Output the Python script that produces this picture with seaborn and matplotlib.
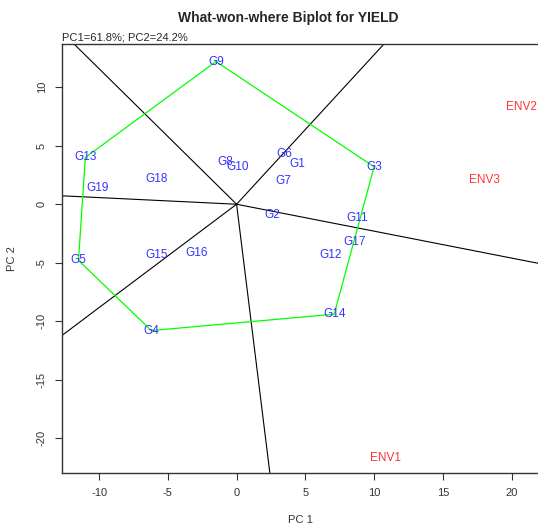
import numpy as np
import pandas as pd
import matplotlib
matplotlib.use("Agg")
import matplotlib.pyplot as plt
import seaborn as sns

# genotype scores (PC1, PC2)
genotypes = ["G1", "G2", "G3", "G4", "G5", "G6", "G7", "G8", "G9", "G10",
             "G11", "G12", "G13", "G14", "G15", "G16", "G17", "G18", "G19"]
gen_pc1 = [4.4, 2.6, 10.0, -6.2, -11.5, 3.5, 3.4, -0.8, -1.5, 0.1,
           8.8, 6.8, -11.0, 7.1, -5.8, -2.9, 8.6, -5.8, -10.1]
gen_pc2 = [3.4, -0.9, 3.2, -10.8, -4.8, 4.3, 2.0, 3.6, 12.2, 3.2,
           -1.2, -4.3, 4.0, -9.4, -4.3, -4.2, -3.2, 2.2, 1.4]

# environment scores
environments = ["ENV1", "ENV2", "ENV3"]
env_pc1 = [10.8, 20.7, 18.0]
env_pc2 = [-21.7, 8.3, 2.1]

# polygon (convex hull) vertices, in drawing order
hull_order = ["G9", "G3", "G14", "G4", "G5", "G13", "G9"]

gen = pd.DataFrame({"name": genotypes, "pc1": gen_pc1, "pc2": gen_pc2})
env = pd.DataFrame({"name": environments, "pc1": env_pc1, "pc2": env_pc2})
hull = gen.set_index("name").loc[hull_order].reset_index()

sns.set_theme(style="ticks")
plt.rcParams["font.family"] = ["Liberation Sans", "DejaVu Sans"]
plt.rcParams["axes.unicode_minus"] = False

fig = plt.figure(figsize=(5.38, 5.25), dpi=100)
ax = fig.add_axes([0.1152, 0.099, 0.8868, 0.8172])

# rays from the origin, perpendicular to each side of the polygon
pts = hull[["pc1", "pc2"]].to_numpy()
for a, b in zip(pts[:-1], pts[1:]):
    d = b - a
    t = -np.dot(a, d) / np.dot(d, d)
    foot = a + t * d
    direction = foot / np.linalg.norm(foot)
    end = direction * 100
    ax.plot([0, end[0]], [0, end[1]], color="black", lw=0.8, zorder=1)

sns.lineplot(data=hull, x="pc1", y="pc2", sort=False, estimator=None,
             color="#00ff00", lw=0.9, ax=ax, zorder=2)

for _, r in gen.iterrows():
    ax.text(r.pc1, r.pc2, r["name"], color="#3333ff", fontsize=8.5,
            ha="center", va="center", zorder=3)
for _, r in env.iterrows():
    ax.text(r.pc1, r.pc2, r["name"], color="#ff3333", fontsize=8.5,
            ha="center", va="center", zorder=3)

ax.set_xlim(-12.7, 22.0)
ax.set_ylim(-22.98, 13.7)
ax.set_xticks([-10, -5, 0, 5, 10, 15, 20])
ax.set_yticks([-20, -15, -10, -5, 0, 5, 10])
ax.tick_params(axis="both", labelsize=8, length=5, width=0.8, color="#333333",
               labelcolor="#333333", pad=6)
plt.setp(ax.get_yticklabels(), rotation=90, va="center")
for s in ax.spines.values():
    s.set_color("#333333")
    s.set_linewidth(1.0)

ax.set_xlabel("PC 1", fontsize=8, color="#333333", labelpad=12)
ax.set_ylabel("PC 2", fontsize=8, color="#333333", labelpad=14)

fig.text(0.535, 0.965, "What-won-where Biplot for YIELD", ha="center",
         va="center", fontsize=10, fontweight="bold")
fig.text(0.115, 0.928, "PC1=61.8%; PC2=24.2%", ha="left", va="center",
         fontsize=8)

fig.savefig("out.png", dpi=100)
